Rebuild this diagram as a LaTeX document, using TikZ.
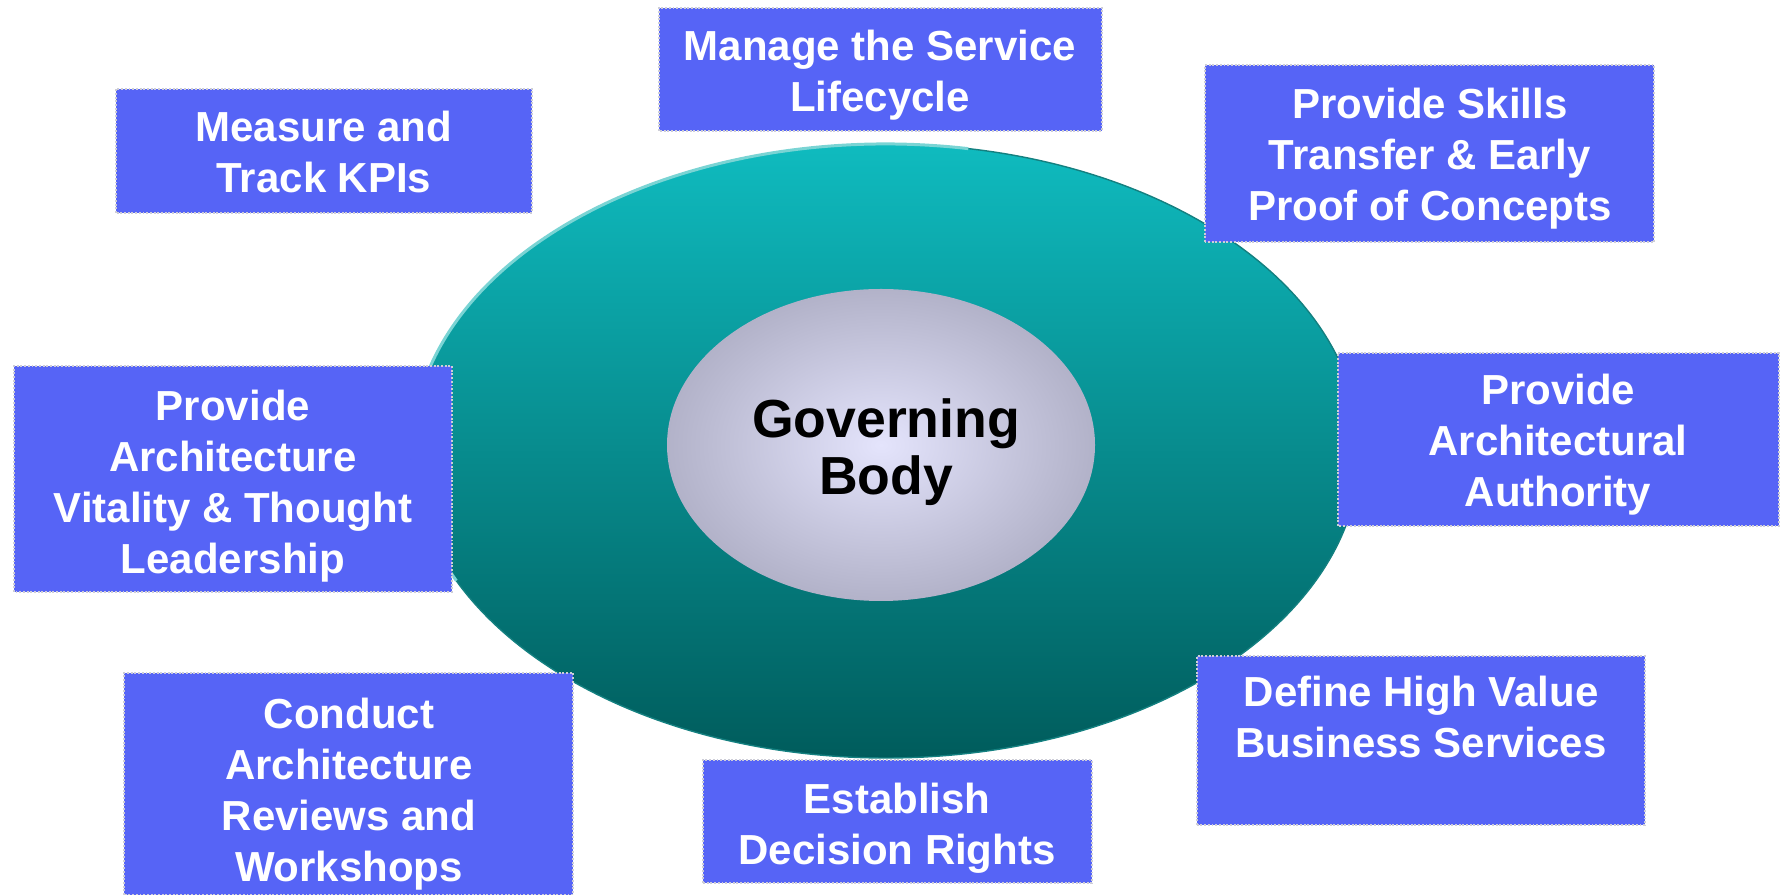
\documentclass[tikz,border=0pt]{standalone}
\usepackage{fontspec}
\setmainfont{Liberation Sans}

\definecolor{bodylight}{RGB}{228,228,252}
\definecolor{bodydark}{RGB}{148,148,170}
\pgfdeclareradialshading{bodyshade}{\pgfpoint{0bp}{0bp}}{%
	color(0bp)=(bodylight); color(40bp)=(bodydark); color(50bp)=(bodydark)}

\begin{document}
\begin{tikzpicture}[x=0.02cm, y=0.02cm]

	% outer ring
	\def\cx{886}
	\def\cy{444}
	\def\rx{474}
	\def\ry{307}

	% governing body
	\def\bx{881}
	\def\by{450}
	\def\brx{214}
	\def\bry{156}

	% Colours
	\definecolor{ringtop}{RGB}{15,187,191}
	\definecolor{ringmid}{RGB}{3,155,156}
	\definecolor{ringbot}{RGB}{0,92,92}
	\definecolor{ringedge}{RGB}{20,128,128}
	\definecolor{ringrim}{RGB}{122,212,212}
	\definecolor{boxcolor}{RGB}{86,100,246}
	\definecolor{boxedge}{RGB}{205,205,215}

	% Styles
	\tikzstyle{goalbox}=[fill=boxcolor, draw=boxedge, densely dotted, line width=1.1pt]
	\tikzstyle{goaltext}=[text=white, align=center, inner sep=0pt,
		font=\bfseries\fontsize{23.9}{29}\selectfont]
	\tikzstyle{bodytext}=[text=black, align=center, inner sep=0pt,
		font=\bfseries\fontsize{30.5}{32.4}\selectfont]

	\useasboundingbox (0,0) rectangle (1781,895);

	%== Rings ================================================================
	\shade[top color=ringtop, middle color=ringmid, bottom color=ringbot]
		(\cx,\cy) ellipse [x radius=\rx, y radius=\ry];
	\draw[ringedge, line width=0.8pt] (\cx,\cy) ellipse [x radius=\rx, y radius=\ry];
	\draw[ringrim, line width=1.7pt] ({\cx+\rx*cos(80)},{\cy+\ry*sin(80)})
		arc[start angle=80, end angle=205, x radius=\rx, y radius=\ry];

	\shade[shading=bodyshade] (\bx,\by) ellipse [x radius=\brx, y radius=\bry];
	\node[bodytext] (body) at (\bx+5,\by-7) {Governing\\Body};

	%== Goals ================================================================
	% Top row
	\draw[goalbox] (116,682) rectangle (532,806);
	\node[goaltext] (kpis) at (324,743) {Measure and\\Track KPIs};

	\draw[goalbox] (659,764) rectangle (1102,887);
	\node[goaltext] (lifecycle) at (880,820) {Manage the Service\\Lifecycle};

	\draw[goalbox] (1205,653) rectangle (1654,830);
	\node[goaltext] (skills) at (1430,736) {Provide Skills\\Transfer \& Early\\Proof of Concepts};

	% Middle row
	\draw[goalbox] (14,303) rectangle (452,529);
	\node[goaltext] (vitality) at (233,409) {Provide\\Architecture\\Vitality \& Thought\\Leadership};

	\draw[goalbox] (1338,369) rectangle (1779,542);
	\node[goaltext] (authority) at (1558,450) {Provide\\Architectural\\Authority};

	% Bottom row
	\draw[goalbox] (124,0) rectangle (573,222);
	\node[goaltext] (reviews) at (349,101) {Conduct\\Architecture\\Reviews and\\Workshops};

	\draw[goalbox] (703,12) rectangle (1092,135);
	\node[goaltext] (rights) at (897,67) {Establish\\Decision Rights};

	\draw[goalbox] (1197,70) rectangle (1645,239);
	\node[goaltext] (services) at (1421,178) {Define High Value\\Business Services};

\end{tikzpicture}
\end{document}
